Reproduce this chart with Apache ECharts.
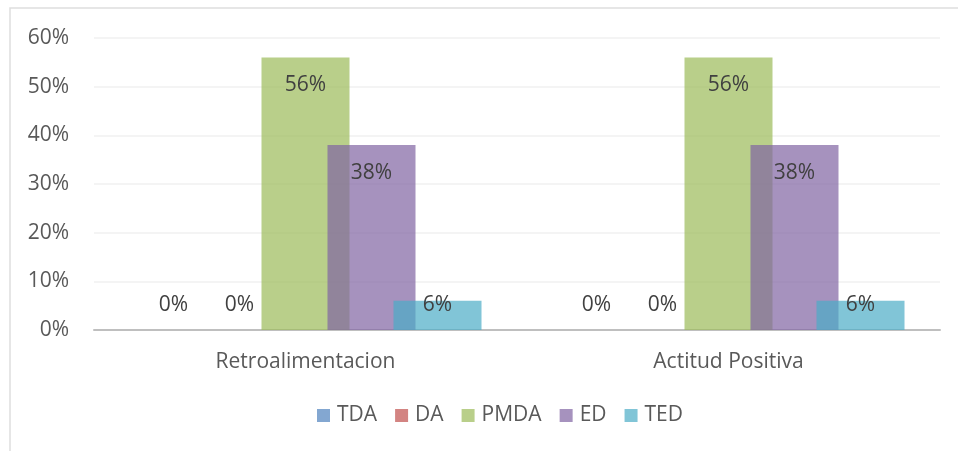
<!DOCTYPE html>
<html>
<head>
<meta charset="utf-8">
<script src="https://cdn.jsdelivr.net/npm/echarts@6/dist/echarts.min.js"></script>
<style>
  html, body { margin: 0; padding: 0; background: #fff; }
  #chart { width: 958px; height: 451px; }
</style>
</head>
<body>
<div id="chart"></div>
<script>
// datos del grafico
var categories = ['Retroalimentacion', 'Actitud Positiva'];
var seriesNames = ['TDA', 'DA', 'PMDA', 'ED', 'TED'];
var tda = [0, 0];
var da = [0, 0];
var pmda = [56, 56];
var ed = [38, 38];
var ted = [6, 6];
var yTicks = [0, 10, 20, 30, 40, 50, 60];

// colores con transparencia (como en Excel)
var colors = ['rgba(79,129,189,0.7)', 'rgba(192,80,77,0.7)', 'rgba(155,187,89,0.7)', 'rgba(128,100,162,0.7)', 'rgba(75,172,198,0.7)'];
var font = '"Open Sans", "Noto Sans", sans-serif';

// posicion de la etiqueta segun el alto de la barra
function labelFor(v){
    if(v === 0){
        return { position: 'top', distance: 14 };
    }else if(v < 10){
        return { position: 'insideTop', distance: -6 };
    }
    return { position: 'insideTop', distance: 17 };
}

function buildSeries(name, values, i){
    return {
        name: name,
        type: 'bar',
        barWidth: 88,
        barGap: '-25%',
        itemStyle: { color: colors[i] },
        label: {
            show: true,
            color: '#404040',
            fontSize: 21,
            fontFamily: font,
            formatter: '{c}%'
        },
        data: values.map(function(v){
            return { value: v, label: labelFor(v) };
        })
    };
}

var allValues = [tda, da, pmda, ed, ted];
var series = seriesNames.map(function(n, i){
    return buildSeries(n, allValues[i], i);
});

var myChart = echarts.init(document.getElementById('chart'));
var option = {
    animation: false,
    backgroundColor: '#fff',
    graphic: [{
        type: 'rect',
        shape: { x: 10, y: 8, width: 960, height: 460 },
        style: { fill: 'none', stroke: '#dedede', lineWidth: 1.5 },
        silent: true
    }],
    grid: { left: 94, right: 18, top: 38, bottom: 121 },
    legend: {
        data: seriesNames,
        top: 400,
        left: 312,
        itemWidth: 13,
        itemHeight: 13,
        itemGap: 18,
        icon: 'rect',
        textStyle: { color: '#595959', fontSize: 21, fontFamily: font, padding: [0, 0, 0, 2] }
    },
    xAxis: {
        type: 'category',
        data: categories,
        axisLine: { lineStyle: { color: '#bfbfbf', width: 2 } },
        axisTick: { show: false },
        axisLabel: { color: '#595959', fontSize: 21, fontFamily: font, margin: 22 }
    },
    yAxis: {
        type: 'value',
        min: yTicks[0],
        max: yTicks[yTicks.length - 1],
        interval: 10,
        axisLine: { show: false },
        axisTick: { show: false },
        splitLine: { lineStyle: { color: '#f0f0f0', width: 1.5 } },
        axisLabel: { color: '#595959', fontSize: 21, fontFamily: font, margin: 25, formatter: '{value}%' }
    },
    series: series
};
myChart.setOption(option);
</script>
</body>
</html>
